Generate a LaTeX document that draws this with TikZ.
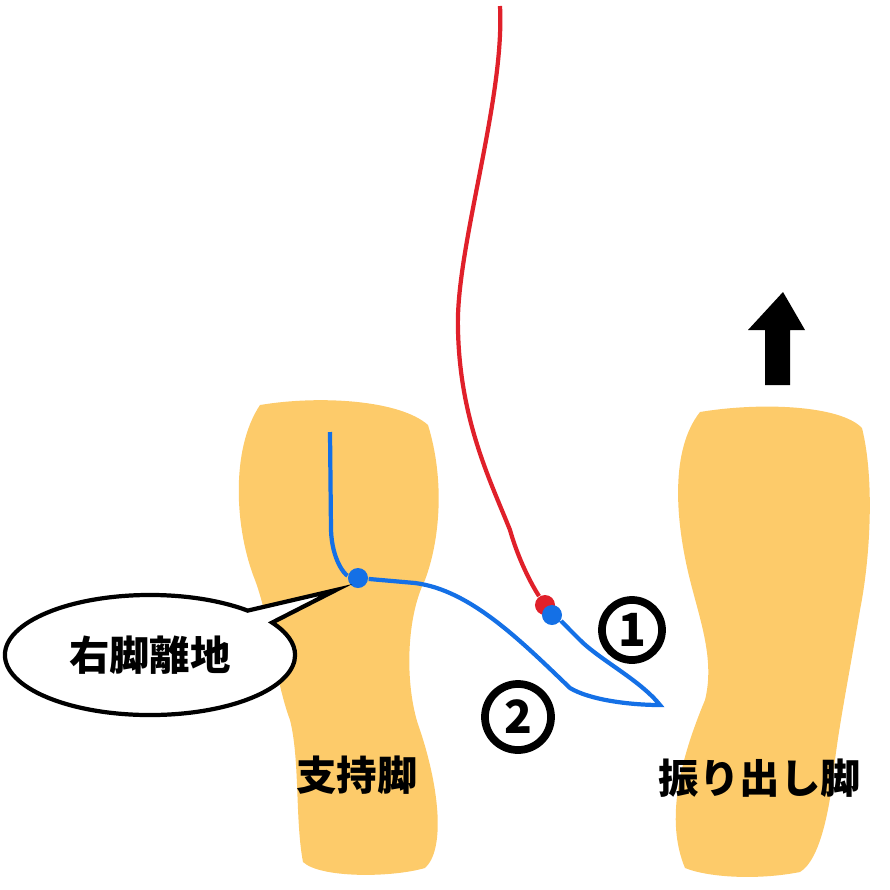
\documentclass[tikz,border=0pt]{standalone}
\usepackage{fontspec}
\newfontfamily\cjk{Noto Sans CJK JP}
\usetikzlibrary{shapes.callouts}
\definecolor{footcol}{HTML}{FDCB6A}
\definecolor{pathblue}{HTML}{1470E6}
\definecolor{pathred}{HTML}{E0202A}
\tikzset{
  foot/.style={fill=footcol, draw=none},
  label/.style={font=\cjk\bfseries\fontsize{11.5}{13}\selectfont},
  num/.style={circle, draw, line width=2.2pt, inner sep=0pt, minimum size=0.66cm, font=\cjk\bfseries\fontsize{13}{14}\selectfont}
}
\begin{document}
\begin{tikzpicture}[x=0.01cm, y=-0.01cm]
  \useasboundingbox (0,0) rectangle (890,890);
  % Feet
  \fill[foot] (260,405) .. controls (320,395) and (400,400) .. (428,425)
    .. controls (445,480) and (440,540) .. (425,580)
    .. controls (405,620) and (405,690) .. (420,730)
    .. controls (440,790) and (445,850) .. (425,868)
    .. controls (390,878) and (320,878) .. (303,862)
    .. controls (295,820) and (300,760) .. (290,720)
    .. controls (275,680) and (270,620) .. (255,580)
    .. controls (235,530) and (230,450) .. (260,405) -- cycle;
  \fill[foot] (700,412) .. controls (760,402) and (840,405) .. (862,428)
    .. controls (875,480) and (870,560) .. (860,610)
    .. controls (850,670) and (840,720) .. (835,760)
    .. controls (830,810) and (820,860) .. (800,872)
    .. controls (760,880) and (710,878) .. (685,868)
    .. controls (665,820) and (680,760) .. (705,700)
    .. controls (715,660) and (700,620) .. (690,580)
    .. controls (675,520) and (670,450) .. (700,412) -- cycle;
  % Arrow
  \fill (765,385) -- (765,330) -- (748,330) -- (783,292) -- (805,330) -- (790,330) -- (790,385) -- cycle;
  % Paths
  \coordinate (top) at (500,6);
  \node (red) [circle, fill=pathred, inner sep=0pt, minimum size=0.2cm] at (545,605) {};
  \node (blue2) [circle, fill=pathblue, inner sep=0pt, minimum size=0.2cm] at (552,615) {};
  \node (blue1) [circle, fill=pathblue, inner sep=0pt, minimum size=0.2cm] at (358,578) {};
  \coordinate (tip) at (660,705);
  \coordinate (start) at (330,432);
  \draw[pathred, line width=1.2pt] (top) .. controls (505,100) and (455,250) .. (458,330)
    .. controls (460,420) and (490,480) .. (510,530) .. controls (520,565) and (535,590) .. (red);
  \draw[pathblue, line width=1.2pt] (start) -- (331,530) .. controls (332,560) and (345,575) .. (blue1)
    -- (415,583) .. controls (470,590) and (520,640) .. (570,688) .. controls (590,700) and (630,705) .. (tip)
    .. controls (640,680) and (600,660) .. (580,640) .. controls (570,630) and (560,620) .. (blue2);
  % Callout
  \node (callout) [ellipse callout, draw, line width=1.2pt, fill=white, minimum width=2.9cm, minimum height=1.2cm,
    callout absolute pointer={(336,590)}, label] at (150,655) {右脚離地};
  % Labels
  \node (n1) [num, minimum size=0.6cm] at (632,630) {1};
  \node (n2) [num] at (518,717) {2};
  \node (stance) [label] at (357,775) {支持脚};
  \node (swing) [label] at (760,778) {振り出し脚};
\end{tikzpicture}
\end{document}
